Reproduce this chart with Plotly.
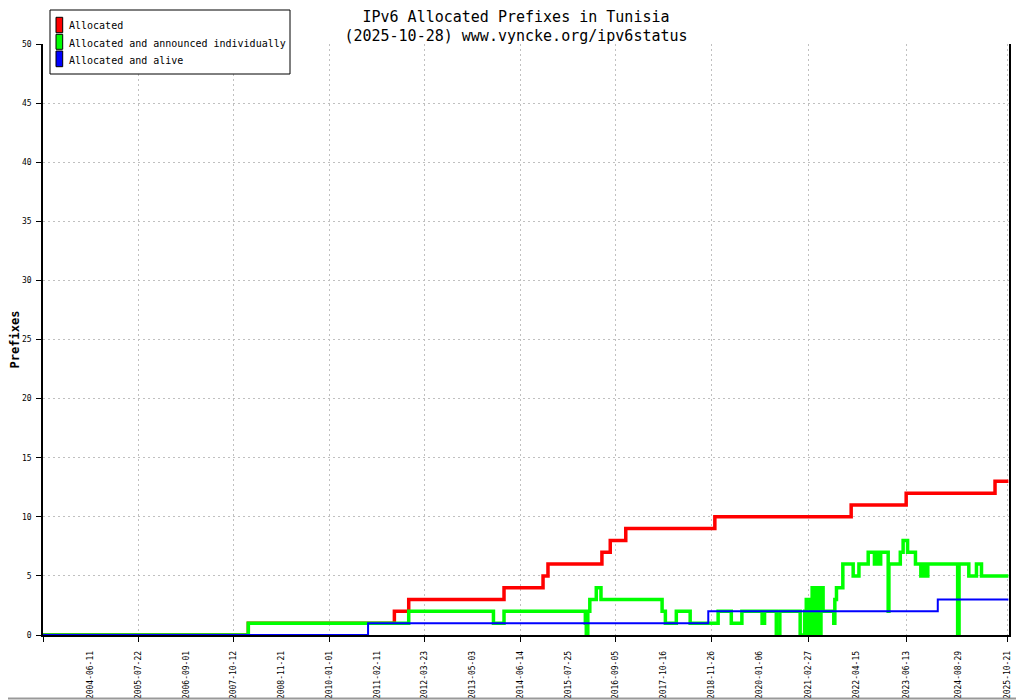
import plotly.graph_objects as go

# step data: value changes (date, new value)
alloc_dates = ["2003-05-02", "2008-02-12", "2011-07-09", "2011-11-08", "2014-01-27",
               "2014-12-25", "2015-02-05", "2016-05-09", "2016-07-19", "2016-11-28",
               "2018-12-26", "2022-02-28", "2023-06-11", "2025-07-06", "2025-10-28"]
alloc_values = [0, 1, 2, 3, 4, 5, 6, 7, 8, 9, 10, 11, 12, 13, 13]

announced_dates = ["2003-05-02", "2008-02-12", "2011-11-08", "2013-10-29", "2014-01-27",
                   "2015-12-20", "2015-12-28", "2016-01-10", "2016-01-27", "2016-03-22",
                   "2016-05-01", "2017-10-03", "2017-10-31", "2018-02-01", "2018-05-30",
                   "2019-01-23", "2019-05-15", "2019-08-13", "2020-02-01", "2020-02-22",
                   "2020-06-01", "2020-07-01", "2020-12-21", "2021-01-28", "2021-02-11",
                   "2021-02-23", "2021-03-08", "2021-03-20", "2021-04-02", "2021-04-15",
                   "2021-04-24", "2021-05-19", "2021-06-16", "2021-07-04", "2021-10-03",
                   "2021-10-12", "2021-10-26", "2021-12-19", "2022-03-17", "2022-05-05",
                   "2022-07-23", "2022-09-14", "2022-10-04", "2022-10-19", "2022-11-06",
                   "2023-01-09", "2023-01-15", "2023-04-22", "2023-05-16", "2023-06-23",
                   "2023-08-29", "2023-10-14", "2023-11-05", "2023-11-20", "2023-12-12",
                   "2024-08-22", "2024-09-03", "2024-11-25", "2025-01-29", "2025-03-13",
                   "2025-10-28"]
announced_values = [0, 1, 2, 1, 2,
                    1, 0, 2, 3, 4,
                    3, 2, 1, 2, 1,
                    2, 1, 2, 1, 2,
                    0, 2, 0, 2, 3,
                    0, 3, 0, 4, 0,
                    4, 0, 4, 2, 1,
                    3, 4, 6, 5, 6,
                    7, 6, 7, 6, 7,
                    2, 6, 7, 8, 7,
                    6, 5, 6, 5, 6,
                    0, 6, 5, 6, 5,
                    5]

alive_dates = ["2003-05-02", "2010-11-27", "2018-10-31", "2024-03-06", "2025-10-28"]
alive_values = [0, 1, 2, 3, 3]

tick_labels = ["2004-06-11", "2005-07-22", "2006-09-01", "2007-10-12", "2008-11-21",
               "2010-01-01", "2011-02-11", "2012-03-23", "2013-05-03", "2014-06-14",
               "2015-07-25", "2016-09-05", "2017-10-16", "2018-11-26", "2020-01-06",
               "2021-02-27", "2022-04-15", "2023-06-13", "2024-08-29", "2025-10-21"]
grid_dates = ["2003-05-02"] + tick_labels[1::2]

MONO = "DejaVu Sans Mono"

# page body has an 8px margin, so the figure is 8px smaller and margins shifted
W, H = 1016, 692
L, R, T, B = 35, 15, 36, 65
PW, PH = W - L - R, H - T - B


def px(x):   # page pixel x -> paper
    return (x - 8 - L) / PW


def py(y):   # page pixel y -> paper
    return (H - B - (y - 8)) / PH


fig = go.Figure()

series = [
    ("Allocated", alloc_dates, alloc_values, "#ff0000", 3.5),
    ("Allocated and announced individually", announced_dates, announced_values, "#00ff00", 3.5),
    ("Allocated and alive", alive_dates, alive_values, "#0000ff", 2),
]
for name, xs, ys, col, w in series:
    fig.add_trace(go.Scatter(x=xs, y=ys, mode="lines", line=dict(color=col, width=w, shape="hv"),
                             name=name))

fig.update_layout(
    width=W, height=H,
    margin=dict(l=L, r=R, t=T, b=B),
    paper_bgcolor="white", plot_bgcolor="white",
    font=dict(family=MONO, size=9, color="black"),
    title=dict(text="IPv6 Allocated Prefixes in Tunisia<br>(2025-10-28) www.vyncke.org/ipv6status",
               x=0.5, xref="container", xanchor="center", y=1 - 13.5 / H, yanchor="top",
               font=dict(family=MONO, size=15, color="black")),
    showlegend=False,
)

fig.update_xaxes(
    type="date", range=["2003-05-02", "2025-11-02"], automargin=False,
    tickmode="array", tickvals=tick_labels, ticktext=tick_labels,
    tickangle=-90, ticks="", showgrid=False,
    showline=True, linecolor="black", linewidth=1.5,
    tickfont=dict(family=MONO, size=8), ticklabelstandoff=11,
    minor=dict(tickmode="array", tickvals=grid_dates, ticks="outside", ticklen=5,
               tickcolor="black", showgrid=True, gridcolor="#c0c0c0",
               griddash="2px,3px", gridwidth=1),
    zeroline=False,
)
fig.update_yaxes(
    range=[0, 50], tickmode="linear", tick0=0, dtick=5, automargin=False,
    ticks="outside", ticklen=5, tickcolor="black",
    showline=True, linecolor="black", linewidth=1.5, mirror=True,
    showgrid=True, gridcolor="#c0c0c0", griddash="2px,3px", gridwidth=1,
    tickfont=dict(family=MONO, size=8), ticklabelstandoff=3, zeroline=False,
    title=dict(text="<b>Prefixes</b>", font=dict(family=MONO, size=12), standoff=4),
)

# legend box drawn by hand (coloured blocks like the original)
fig.add_shape(type="rect", xref="paper", yref="paper", layer="above",
              x0=px(50), x1=px(290), y0=py(74), y1=py(10),
              line=dict(color="black", width=1), fillcolor="white")
legend_rows = [(26, 17.3, 32.7), (43.3, 34.3, 49.3), (60.3, 51, 66.7)]
for (name, _, _, col, _), (yc, ya, yb) in zip(series, legend_rows):
    fig.add_shape(type="rect", xref="paper", yref="paper", layer="above",
                  x0=px(56), x1=px(62.7), y0=py(yb), y1=py(ya),
                  line=dict(color="black", width=1), fillcolor=col)
    fig.add_annotation(text=name, xref="paper", yref="paper", x=px(66.5), y=py(yc),
                       xanchor="left", yanchor="middle", showarrow=False,
                       font=dict(family=MONO, size=10, color="black"))

# grey frame (right and bottom edges of the image)
fig.add_shape(type="line", xref="paper", yref="paper", x0=px(1022.5), x1=px(1022.5),
              y0=py(699), y1=py(8), line=dict(color="#999999", width=2))
fig.add_shape(type="line", xref="paper", yref="paper", x0=px(8), x1=px(1023),
              y0=py(698.5), y1=py(698.5), line=dict(color="#999999", width=2))

fig.write_html("out.html")
